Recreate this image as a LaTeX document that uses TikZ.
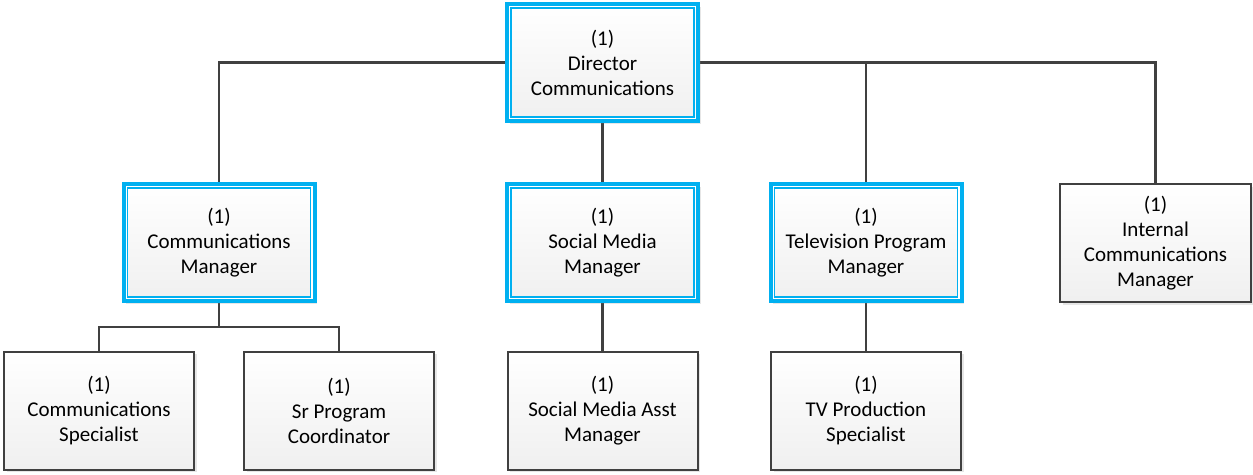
\documentclass[tikz,border=0pt]{standalone}
\usepackage{fontspec}
\setmainfont{Carlito}
\usetikzlibrary{shadows,backgrounds}
\definecolor{cblue}{HTML}{00B0F0}
\definecolor{cline}{HTML}{404040}
\begin{document}
\begin{tikzpicture}[x=1pt,y=-1pt,
  box/.style={rectangle, draw=cline, line width=2pt, top color=white, bottom color=black!6,
    minimum width=190pt, minimum height=118pt, align=center, inner sep=0pt,
    font=\fontsize{21}{25}\selectfont,
    drop shadow={opacity=0.2, shadow xshift=2.5pt, shadow yshift=-2.5pt}},
  mgr/.style={box, draw=cblue, line width=4pt, fill=white, top color=white, bottom color=white,
    minimum width=191pt, minimum height=117pt,
    path picture={\draw[cblue, line width=1.8pt, top color=white, bottom color=black!6]
      ([shift={(4pt,-4pt)}]path picture bounding box.north west) rectangle
      ([shift={(-4pt,4pt)}]path picture bounding box.south east);}},
  conn/.style={draw=cline, line width=2.2pt}]
\useasboundingbox (0,0) rectangle (1253,474);
% level 1
\node[mgr] (dir) at (602.5,62.5) {(1)\\Director\\Communications};
% level 2
\node[mgr] (cm) at (219,242.5) {(1)\\Communications\\Manager};
\node[mgr] (sm) at (602.5,242.5) {(1)\\Social Media\\Manager};
\node[mgr] (tv) at (866,242.5) {(1)\\Television Program\\Manager};
\node[box, minimum width=191pt] (im) at (1155.5,243) {(1)\\Internal\\Communications\\Manager};
% level 3
\node[box] (cs) at (99,410.5) {(1)\\Communications\\Specialist};
\node[box] (sp) at (339,410.5) {(1)\\Sr Program\\Coordinator};
\node[box] (sa) at (602.5,410.5) {(1)\\Social Media Asst\\Manager};
\node[box] (tp) at (866,410.5) {(1)\\TV Production\\Specialist};
\coordinate (cmj) at (219,327);
\begin{scope}[on background layer]
\draw[conn] (dir.west) -| (cm.north);
\draw[conn] (dir.east) -| (im.north);
\draw[conn] (tv.north) -- (tv.north |- dir.east);
\draw[conn] (dir.south) -- (sm.north);
\draw[conn] (cm.south) -- (cmj);
\draw[conn] (cs.north) |- (cmj) -| (sp.north);
\draw[conn] (sm.south) -- (sa.north);
\draw[conn] (tv.south) -- (tp.north);
\end{scope}
\end{tikzpicture}
\end{document}
